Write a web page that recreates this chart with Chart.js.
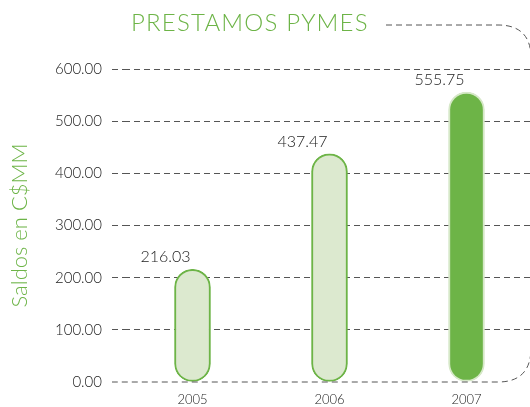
<!DOCTYPE html>
<html>
<head>
<meta charset="utf-8">
<script src="https://cdn.jsdelivr.net/npm/chart.js@4/dist/chart.umd.min.js"></script>
<style>
  html, body { margin: 0; padding: 0; background: #fff; overflow: hidden; }
  #wrap { width: 535px; height: 407px; }
</style>
</head>
<body>
<div id="wrap"><canvas id="prestamosChart"></canvas></div>
<script>
// --- Chart Data ---
const years = ['2005', '2006', '2007'];
const saldos = [216.03, 437.47, 555.75];
const yTicks = [0, 100, 200, 300, 400, 500, 600];
const chartTitle = 'PRESTAMOS PYMES';
const yTitle = 'Saldos en C$MM';

const green = '#6db447';
const lightGreen = '#dce9cf';
const fontFamily = 'Lato, "Open Sans", sans-serif';

// decorative dashed frame + title + value labels
const decorPlugin = {
    id: 'decor',
    afterDatasetsDraw(chart) {
        const { ctx, chartArea } = chart;
        const y0 = chart.scales.y.getPixelForValue(0);
        ctx.save();
        // title
        ctx.font = '300 24px ' + fontFamily;
        ctx.letterSpacing = '1.2px';
        ctx.fillStyle = green;
        ctx.textBaseline = 'middle';
        ctx.textAlign = 'left';
        ctx.fillText(chartTitle, 131, 23);
        ctx.letterSpacing = '0px';
        // frame
        ctx.strokeStyle = '#555';
        ctx.lineWidth = 1;
        ctx.setLineDash([6, 4]);
        ctx.beginPath();
        ctx.moveTo(386, 25);
        ctx.lineTo(498, 25);
        ctx.quadraticCurveTo(531, 25, 531, 58);
        ctx.lineTo(531, 348);
        ctx.quadraticCurveTo(531, y0, 498, y0);
        ctx.lineTo(chartArea.left - 12, y0);
        ctx.stroke();
        // value labels
        ctx.setLineDash([]);
        ctx.font = '300 16px ' + fontFamily;
        ctx.fillStyle = '#222';
        ctx.textAlign = 'center';
        const meta = chart.getDatasetMeta(0);
        meta.data.forEach((bar, i) => {
            ctx.fillText(saldos[i].toFixed(2), bar.x - 27, bar.y - 12);
        });
        ctx.restore();
    }
};

const ctx = document.getElementById('prestamosChart').getContext('2d');
const prestamosChart = new Chart(ctx, {
    type: 'bar',
    data: {
        labels: years,
        datasets: [{
            data: saldos,
            backgroundColor: [lightGreen, lightGreen, green],
            borderColor: [green, green, '#d6e8c8'],
            borderWidth: 2,
            borderRadius: 18,
            borderSkipped: false,
            barThickness: 36
        }]
    },
    options: {
        responsive: true,
        maintainAspectRatio: false,
        animation: false,
        layout: { padding: { top: 69, right: 0, bottom: 0, left: 0 } },
        plugins: {
            legend: { display: false },
            title: { display: false },
            tooltip: { enabled: false }
        },
        scales: {
            y: {
                min: 0,
                max: 600,
                afterBuildTicks: (scale) => { scale.ticks = yTicks.map(v => ({ value: v })); },
                afterFit: (scale) => { scale.width = 124; },
                grid: {
                    color: (c) => c.tick && c.tick.value === 0 ? 'rgba(0,0,0,0)' : '#555',
                    lineWidth: 1,
                    tickLength: 12,
                    drawTicks: true,
                    tickBorderDash: [6, 4]
                },
                border: { display: false, dash: [6, 4] },
                ticks: {
                    padding: 10,
                    color: '#222',
                    font: { family: fontFamily, size: 15, weight: '300' },
                    callback: (v) => Number(v).toFixed(2)
                },
                title: {
                    display: true,
                    text: yTitle,
                    color: green,
                    font: { family: fontFamily, size: 22, weight: '300' },
                    padding: { top: 7, bottom: 0 }
                }
            },
            x: {
                afterFit: (scale) => { scale.height = 25; },
                border: { display: false },
                grid: { display: false, drawTicks: false },
                ticks: {
                    padding: 10,
                    color: '#222',
                    font: { family: fontFamily, size: 13, weight: '300' }
                }
            }
        }
    },
    plugins: [decorPlugin]
});
</script>
</body>
</html>
